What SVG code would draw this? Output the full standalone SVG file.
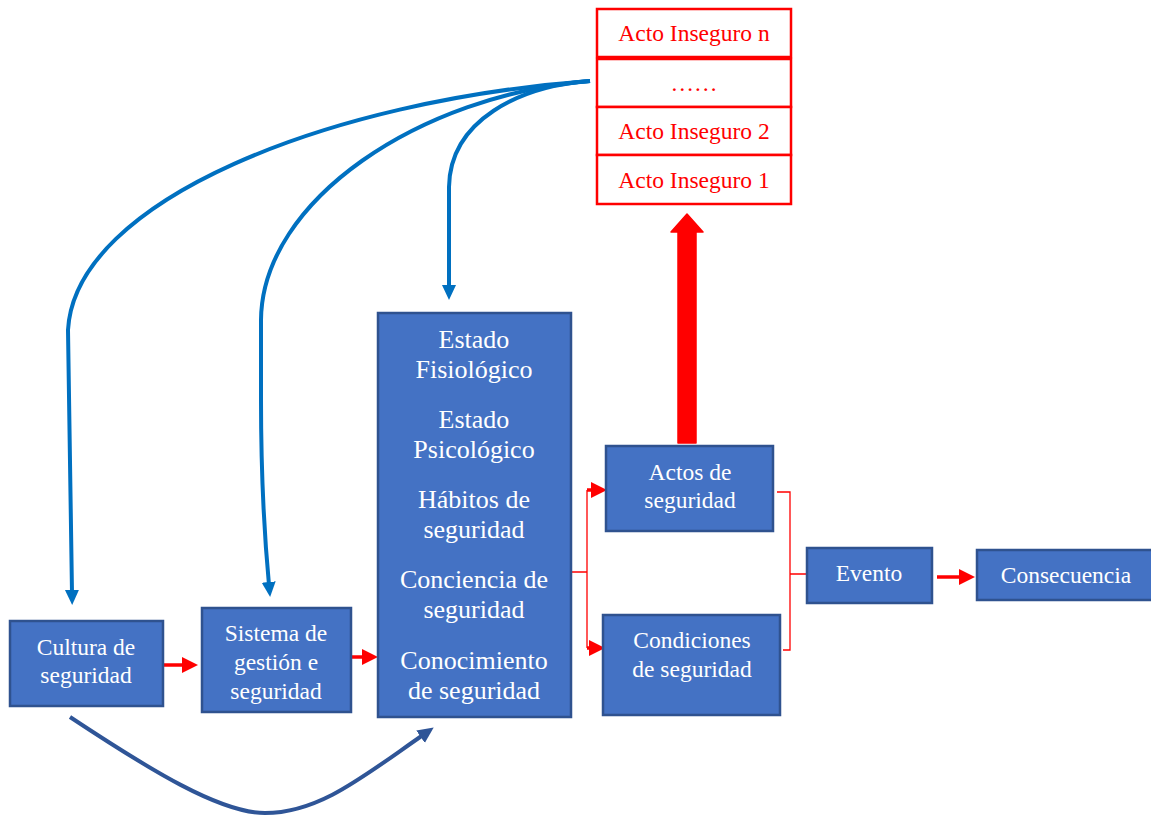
<svg xmlns="http://www.w3.org/2000/svg" width="1151" height="816" viewBox="0 0 1151 816">
<defs>
<style>
.node{fill:#4472c4;stroke:#2f528f;stroke-width:2.5}
.wt{fill:#ffffff;font-family:"Liberation Serif","Times New Roman",serif;font-size:23.5px;text-anchor:middle}
.big{font-size:26px}
.rt{fill:#ff0000;font-family:"Liberation Serif","Times New Roman",serif;font-size:23.5px;text-anchor:middle}
.rbox{fill:#ffffff;stroke:#ff0000;stroke-width:2.5}
.blue{fill:none;stroke:#0070c0;stroke-width:4}
.dblue{fill:none;stroke:#2f5597;stroke-width:4}
.red{fill:none;stroke:#ff0000;stroke-width:3.5}
.thin{fill:none;stroke:#ff0000;stroke-width:1.3}
</style>
<marker id="ab" markerWidth="15" markerHeight="15" refX="3" refY="7" orient="auto" markerUnits="userSpaceOnUse"><path d="M0,0 L15,7 L0,14 z" fill="#0070c0"/></marker>
<marker id="adb" markerWidth="16" markerHeight="16" refX="3" refY="7.5" orient="auto" markerUnits="userSpaceOnUse"><path d="M0,0 L16,7.5 L0,15 z" fill="#2f5597"/></marker>
<marker id="ar" markerWidth="17" markerHeight="17" refX="2" refY="8" orient="auto" markerUnits="userSpaceOnUse"><path d="M0,0 L16,8 L0,16 z" fill="#ff0000"/></marker>
</defs>

<g id="connectors">
<path class="blue" d="M590,81 C330,100 75,200 68,330 L72,593" marker-end="url(#ab)"/>
<path class="blue" d="M590,81 C420,95 262,200 261,320 L261,400 Q261,500 269,585" marker-end="url(#ab)"/>
<path class="blue" d="M590,81 C520,86 450,120 449,187 L449,288" marker-end="url(#ab)"/>
<path class="dblue" d="M70,717 C150,770 220,813 265,813 C320,813 365,775 423,735" marker-end="url(#adb)"/>
<path class="red" d="M163,665 L184,665" marker-end="url(#ar)"/>
<path class="red" d="M352,657 L364,657" marker-end="url(#ar)"/>
<path class="red" d="M937,577 L961,577" marker-end="url(#ar)"/>
<path class="thin" d="M571,572 L587,572 M587,490 L587,648"/>
<path class="red" d="M587,490 L593,490" marker-end="url(#ar)"/>
<path class="red" d="M587,648 L591,648" marker-end="url(#ar)"/>
<path class="thin" d="M777,492 L790,492 L790,650 L783,650 M790,574 L807,574"/>
<path d="M678,443 L678,232 L671,232 L687,214 L703,232 L696,232 L696,443 z" fill="#ff0000" stroke="#ff0000" stroke-width="1.5" stroke-linejoin="round"/>
</g>

<g id="acto-n"><rect class="rbox" x="597" y="9" width="194" height="48"/><text class="rt" x="694" y="41">Acto Inseguro n</text></g>
<g id="acto-dots"><rect class="rbox" x="597" y="59" width="194" height="48"/><text class="rt" x="694" y="91">……</text></g>
<g id="acto-2"><rect class="rbox" x="597" y="107" width="194" height="48"/><text class="rt" x="694" y="139">Acto Inseguro 2</text></g>
<g id="acto-1"><rect class="rbox" x="597" y="155" width="194" height="49"/><text class="rt" x="694" y="188">Acto Inseguro 1</text></g>

<g id="cultura"><rect class="node" x="10" y="621" width="153" height="85"/><text class="wt" x="86" y="655">Cultura de</text><text class="wt" x="86" y="683">seguridad</text></g>
<g id="sistema"><rect class="node" x="202" y="608" width="149" height="104"/><text class="wt" x="276" y="641">Sistema de</text><text class="wt" x="276" y="670">gestión e</text><text class="wt" x="276" y="699">seguridad</text></g>
<g id="factores"><rect class="node" x="378" y="313" width="193" height="404"/>
<text class="wt big" x="474" y="348">Estado</text><text class="wt big" x="474" y="378">Fisiológico</text>
<text class="wt big" x="474" y="428">Estado</text><text class="wt big" x="474" y="458">Psicológico</text>
<text class="wt big" x="474" y="508">Hábitos de</text><text class="wt big" x="474" y="538">seguridad</text>
<text class="wt big" x="474" y="588">Conciencia de</text><text class="wt big" x="474" y="618">seguridad</text>
<text class="wt big" x="474" y="669">Conocimiento</text><text class="wt big" x="474" y="699">de seguridad</text></g>
<g id="actos"><rect class="node" x="606" y="446" width="167" height="85"/><text class="wt" x="690" y="480">Actos de</text><text class="wt" x="690" y="508">seguridad</text></g>
<g id="condiciones"><rect class="node" x="603" y="615" width="177" height="100"/><text class="wt" x="692" y="648">Condiciones</text><text class="wt" x="692" y="677">de seguridad</text></g>
<g id="evento"><rect class="node" x="807" y="548" width="125" height="55"/><text class="wt" x="869" y="581">Evento</text></g>
<g id="consecuencia"><rect class="node" x="977" y="550" width="180" height="50"/><text class="wt" x="1066" y="583">Consecuencia</text></g>
</svg>
